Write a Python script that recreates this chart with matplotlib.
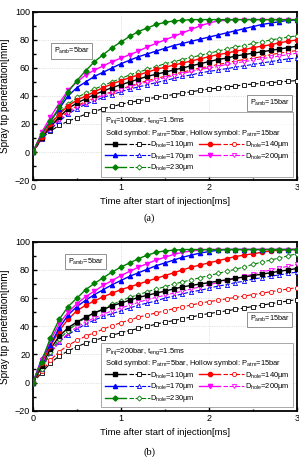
import matplotlib
matplotlib.use("Agg")
import matplotlib.pyplot as plt
from matplotlib.legend_handler import HandlerTuple
from matplotlib.ticker import MultipleLocator

plt.rcParams['font.family'] = ['Liberation Sans', 'DejaVu Sans']
plt.rcParams['mathtext.default'] = 'regular'

# time after start of injection [ms]
t = [0.0, 0.1, 0.2, 0.3, 0.4, 0.5, 0.6, 0.7, 0.8, 0.9, 1.0,
     1.1, 1.2, 1.3, 1.4, 1.5, 1.6, 1.7, 1.8, 1.9, 2.0,
     2.1, 2.2, 2.3, 2.4, 2.5, 2.6, 2.7, 2.8, 2.9, 3.0]

holes = [110, 140, 170, 200, 230]
colors = ['black', 'red', 'blue', 'magenta', 'green']
markers = ['s', 'o', '^', 'v', 'D']

# (a) Pinj = 100 bar, solid = Pamb 5 bar
a_solid = [
    [0, 10, 18, 25, 31, 35, 38, 41, 43.5, 46, 48, 50, 52, 54, 55.5, 57, 58.5, 60, 61.5, 63, 64.5,
     66, 67, 68.5, 69.5, 70.5, 71.5, 72.5, 73.5, 74.5, 75.5],
    [0, 11, 20, 27, 33, 37, 40, 43, 46, 48.5, 51, 53, 55, 57, 59, 60.5, 62, 63.5, 65, 66.5, 68,
     69.5, 70.5, 72, 73, 74.5, 75.5, 76.5, 78, 79, 80],
    [0, 13, 22, 31, 40, 46, 50, 54, 57, 60, 63, 65.5, 68, 70, 72, 74, 76, 77.5, 79, 80.5, 82,
     83.5, 85, 86.5, 88, 89.5, 91, 92, 93, 94, 94],
    [0, 14, 25, 35, 44, 50, 55, 58.5, 61.5, 64.5, 67, 69.5, 72, 75, 77.5, 80, 82.5, 85, 87.5, 90, 92,
     93.5, 94, 94.5, 94.5, 94.5, 94.5, 94.5, 94.5, 94.5, 94.5],
    [0, 13, 22, 32, 43, 51, 58, 64.5, 69.5, 74.5, 78.5, 82.5, 86, 88.5, 91, 92.5, 93.5, 94, 94.5, 94.5, 94.5,
     94.5, 94.5, 94.5, 94.5, 94.5, 94.5, 94.5, 94.5, 94.5, 94.5],
]
# (a) hollow = Pamb 15 bar
a_hollow = [
    [0, 10, 15, 19, 22, 24.5, 27, 29, 31, 32.5, 34, 35.5, 36.5, 38, 39, 40, 41, 42, 43, 44, 45,
     45.5, 46.5, 47, 48, 48.5, 49, 49.5, 50, 50.5, 51],
    [0, 10, 18, 24, 29, 33, 36, 38.5, 41, 43, 45, 47, 49, 51, 52.5, 54, 55.5, 57, 58.5, 60, 61,
     62.5, 63.5, 65, 66, 67, 68, 69.5, 70.5, 71.5, 72.5],
    [0, 9, 16, 22, 27, 31, 34, 36.5, 39, 41, 43, 45, 46.5, 48, 49.5, 51, 52.5, 54, 55, 56.5, 57.5,
     58.5, 59.5, 60.5, 61.5, 62.5, 63.5, 64.5, 65.5, 66.5, 67],
    [0, 9, 17, 23, 28, 32, 35, 38, 40.5, 42.5, 44.5, 46.5, 48.5, 50, 51.5, 53, 54.5, 56, 57.5, 59, 60,
     61, 62.5, 63.5, 64.5, 65.5, 66.5, 67.5, 68.5, 69.5, 70.5],
    [0, 10, 20, 28, 34, 39, 42, 45, 47.5, 50, 52.5, 55, 57, 59, 61, 63, 64.5, 66, 67.5, 69, 70.5,
     72, 73.5, 75, 76, 77.5, 78.5, 80, 81, 82, 83],
]

# (b) Pinj = 200 bar
b_solid = [
    [0, 12, 24, 33, 39, 43, 46.5, 49.5, 52, 54.5, 56.5, 58.5, 60.5, 62, 63.5, 65, 66.5, 68, 69, 70, 71,
     72, 73, 74, 75, 76, 77, 78, 79, 80, 81],
    [0, 14, 26, 37, 45, 51, 55, 58, 61, 63.5, 66, 68, 70, 72, 74, 76, 78, 80, 82, 83.5, 85,
     86.5, 88, 89.5, 90.5, 91.5, 92.5, 93.5, 94, 94.5, 94.5],
    [0, 17, 27, 39, 48, 54, 58.5, 62.5, 66, 69.5, 72.5, 75.5, 78, 80.5, 83, 85, 87, 89, 90.5, 92, 93,
     94, 94.5, 94.5, 94.5, 94.5, 94.5, 94.5, 94.5, 94.5, 94.5],
    [0, 16, 30, 42, 50, 56, 61, 65, 69, 72.5, 76, 79, 82, 84.5, 87, 89, 91, 92.5, 93.5, 94, 94.5,
     94.5, 94.5, 94.5, 94.5, 94.5, 94.5, 94.5, 94.5, 94.5, 94.5],
    [0, 15, 32, 45, 54, 60, 66, 70.5, 74.5, 78.5, 82, 85, 88, 90.5, 92.5, 93.5, 94, 94.5, 94.5, 94.5, 94.5,
     94.5, 94.5, 94.5, 94.5, 94.5, 94.5, 94.5, 94.5, 94.5, 94.5],
]
b_hollow = [
    [0, 7, 14, 19, 22.5, 25.5, 28, 30, 32, 33.5, 35.5, 37, 38.5, 40, 41.5, 43, 44, 45.5, 46.5, 48, 49,
     50, 51, 52, 53, 54, 55, 56, 57, 58, 59],
    [0, 8, 16, 22, 26.5, 30, 33, 35.5, 38, 40.5, 42.5, 44.5, 46.5, 48, 49.5, 51, 52.5, 54, 55, 56.5, 57.5,
     58.5, 59.5, 60.5, 61.5, 62.5, 63.5, 64.5, 65.5, 66.5, 67.5],
    [0, 10, 21, 29, 34, 38, 41.5, 44.5, 47, 49, 51, 53, 55, 56.5, 58, 60, 61.5, 63, 64.5, 65.5, 67,
     68.5, 69.5, 71, 72, 73.5, 74.5, 75.5, 76.5, 77.5, 78.5],
    [0, 10, 21, 29, 35, 39.5, 43, 46, 48.5, 51, 53, 55, 57, 59, 60.5, 62, 63.5, 65, 66.5, 68, 69.5,
     71, 72.5, 74, 75.5, 77, 78.5, 80, 81.5, 82.5, 84],
    [0, 10, 22, 31, 37, 42, 46, 49.5, 52.5, 55.5, 58, 60.5, 62.5, 64.5, 66.5, 68, 70, 71.5, 73, 74.5, 76,
     77.5, 79, 80.5, 82, 84, 85.5, 87, 88.5, 90, 91.5],
]

FS = 5.4


def draw_panel(ax, solid, hollow, pinj, box5, box15):
    pairs = []
    for i in range(len(holes)):
        ms = 2.6 if markers[i] == 'D' else 3.0
        s, = ax.plot(t, solid[i], color=colors[i], marker=markers[i], ms=ms,
                     lw=1.0, mfc=colors[i], mec=colors[i], zorder=4)
        h, = ax.plot(t, hollow[i], color=colors[i], marker=markers[i], ms=ms,
                     lw=0.8, ls=(0, (4, 1.5)), mfc='white', mec=colors[i], mew=0.6, zorder=3)
        pairs.append((s, h))

    ax.set_xlim(0, 3)
    ax.set_ylim(-20, 100)
    ax.xaxis.set_major_locator(MultipleLocator(1))
    ax.xaxis.set_minor_locator(MultipleLocator(0.5))
    ax.yaxis.set_major_locator(MultipleLocator(20))
    ax.yaxis.set_minor_locator(MultipleLocator(10))
    ax.tick_params(which='both', direction='in', labelsize=6.5, pad=2, width=1)
    ax.tick_params(which='major', length=3)
    ax.tick_params(which='minor', length=1.8)
    ax.grid(True, which='major', ls=':', lw=0.5, color='#c8c8c8')
    for sp in ax.spines.values():
        sp.set_linewidth(1.3)

    ax.set_ylabel('Spray tip penetration[mm]', fontsize=7.2)
    ax.yaxis.set_label_coords(-0.085, 0.5)
    ax.set_xlabel('Time after start of injection[ms]', fontsize=6.8)
    ax.xaxis.set_label_coords(0.5, -0.1)

    bb = dict(boxstyle='square,pad=0.35', fc='white', ec='#808080', lw=0.6)
    ax.text(box5[0], box5[1], 'P$_{amb}$=5bar', fontsize=5.2, ha='center', va='center', bbox=bb, zorder=6)
    ax.text(box15[0], box15[1], 'P$_{amb}$=15bar', fontsize=5.2, ha='center', va='center', bbox=bb, zorder=6)

    order = [0, 2, 4, 1, 3]
    labels = ['D$_{hole}$=%d\u00b5m' % holes[i] for i in order]
    title = ('P$_{inj}$=%dbar, t$_{eng}$=1.5ms\n'
             'Solid symbol: P$_{atm}$=5bar, Hollow symbol: P$_{atm}$=15bar' % pinj)
    leg = ax.legend([pairs[i] for i in order], labels, ncol=2, loc='lower right',
                    bbox_to_anchor=(0.985, 0.02), fontsize=FS, title=title, title_fontsize=FS,
                    alignment='left', handler_map={tuple: HandlerTuple(ndivide=None, pad=0.4)},
                    handlelength=6.0, handleheight=0.6, handletextpad=0.1, columnspacing=0.6,
                    labelspacing=0.08, frameon=True, fancybox=False, edgecolor='#808080',
                    borderpad=0.45, borderaxespad=0)
    leg.get_title().set_linespacing(1.2)
    leg.get_frame().set_linewidth(0.6)
    leg.set_zorder(7)


fig = plt.figure(figsize=(2.99, 4.57), dpi=100)
ax1 = fig.add_axes([0.110, 0.606, 0.883, 0.368])
ax2 = fig.add_axes([0.110, 0.101, 0.883, 0.370])

draw_panel(ax1, a_solid, a_hollow, 100, (0.44, 72), (2.69, 35))
draw_panel(ax2, b_solid, b_hollow, 200, (0.6, 86), (2.69, 45))

fig.text(0.5, 0.523, '(a)', ha='center', va='center', fontsize=7.5, family='Liberation Serif')
fig.text(0.5, 0.011, '(b)', ha='center', va='center', fontsize=7.5, family='Liberation Serif')

fig.savefig('out.png', dpi=100)
